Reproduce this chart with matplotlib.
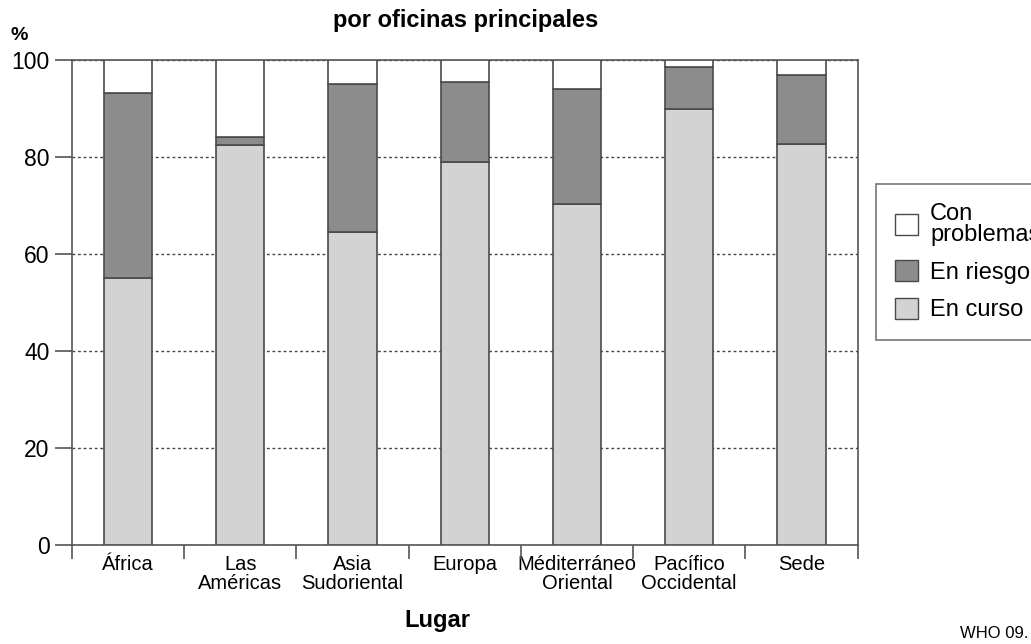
import matplotlib.pyplot as plt
import numpy as np
from matplotlib.patches import Patch

plt.rcParams['font.family'] = ['Liberation Sans', 'DejaVu Sans']

lugares = ["África", "Las\nAméricas", "Asia\nSudoriental", "Europa",
           "Méditerráneo\nOriental", "Pacífico\nOccidental", "Sede"]
en_curso = [55.0, 82.5, 64.5, 79.0, 70.4, 90.0, 82.6]
en_riesgo = [38.1, 1.7, 30.6, 16.5, 23.6, 8.6, 14.3]
con_problemas = [6.9, 15.8, 4.9, 4.5, 6.0, 1.4, 3.1]

c_curso = "#d3d3d3"
c_riesgo = "#8c8c8c"
c_prob = "#ffffff"
edge = "#4a4a4a"

fig = plt.figure(figsize=(10.31, 6.44), dpi=100)
ax = fig.add_axes([0.0698, 0.1537, 0.762, 0.7531])

x = np.arange(len(lugares))
w = 0.43
bottom2 = np.array(en_curso) + np.array(en_riesgo)
ax.bar(x, en_curso, w, color=c_curso, edgecolor=edge, linewidth=1.2, zorder=3)
ax.bar(x, en_riesgo, w, bottom=en_curso, color=c_riesgo, edgecolor=edge, linewidth=1.2, zorder=3)
ax.bar(x, con_problemas, w, bottom=bottom2, color=c_prob, edgecolor=edge, linewidth=1.2, zorder=3)

ax.set_xlim(-0.5, len(lugares) - 0.5)
ax.set_ylim(0, 100)
ax.set_yticks([0, 20, 40, 60, 80, 100])
ax.tick_params(axis="y", direction="out", length=12, width=1.2, color="#555555",
               labelsize=16.5, pad=4)
ax.set_xticks(x)
ax.set_xticklabels(lugares, fontsize=14.5, linespacing=1.0)
ax.tick_params(axis="x", which="major", length=0, pad=7)
ax.set_xticks(np.arange(-0.5, len(lugares)), minor=True)
ax.tick_params(axis="x", which="minor", direction="out", length=10, width=1.2, color="#555555")
ax.set_xticklabels(["", "", "", "", "", "", "", ""], minor=True)

ax.yaxis.grid(True, linestyle=(0, (2, 2)), color="#444444", linewidth=1.0, zorder=0)
for s in ax.spines.values():
    s.set_color("#555555")
    s.set_linewidth(1.2)

fig.text(0.452, 1 - 20 / 644, "por oficinas principales", ha="center", va="center",
         fontsize=17, fontweight="bold")
fig.text(0.010, 0.958, "%", ha="left", va="top", fontsize=14, fontweight="bold")
fig.text(0.424, 0.018, "Lugar", ha="center", va="bottom", fontsize=17, fontweight="bold")
fig.text(0.931, 0.005, "WHO 09.", ha="left", va="bottom", fontsize=12)

handles = [Patch(facecolor=c_prob, edgecolor=edge, label="Con\nproblemas"),
           Patch(facecolor=c_riesgo, edgecolor=edge, label="En riesgo"),
           Patch(facecolor=c_curso, edgecolor=edge, label="En curso")]
leg = fig.legend(handles=handles, loc="upper left", bbox_to_anchor=(0.838, 0.733),
                 fontsize=17, frameon=True, fancybox=False, edgecolor="#555555",
                 handlelength=1.0, handleheight=1.0, handletextpad=0.5,
                 labelspacing=0.6, borderpad=0.8)
leg.get_frame().set_linewidth(1.2)
for t in leg.get_texts():
    t.set_linespacing(0.95)

fig.savefig("out.png", dpi=100)
